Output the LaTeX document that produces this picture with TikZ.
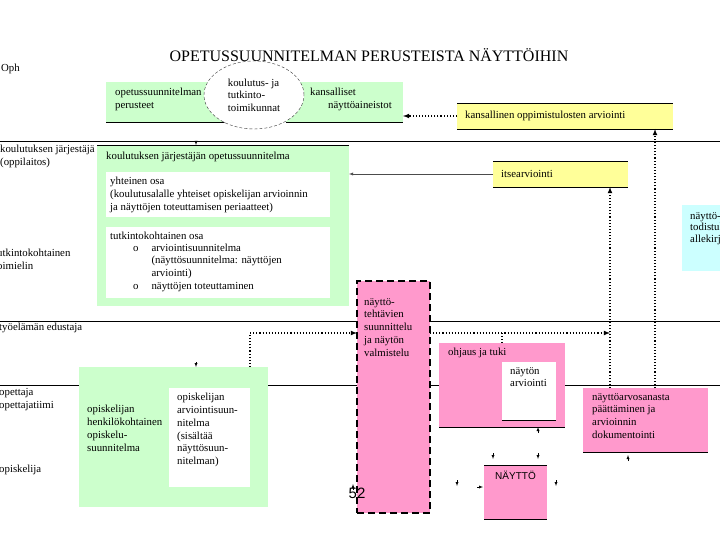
\documentclass[tikz,border=0pt]{standalone}
\usepackage{fontspec}
\setmainfont{Liberation Serif}
\setsansfont{Liberation Sans}
\usetikzlibrary{shapes.geometric,positioning}
\definecolor{ophgreen}{RGB}{204,255,204}
\definecolor{ophyellow}{RGB}{255,255,153}
\definecolor{ophpink}{RGB}{255,153,204}
\definecolor{ophcyan}{RGB}{204,255,255}
\tikzstyle{txt}=[inner sep=0pt, align=left, font=\fontsize{10.8}{12.8}\selectfont]
\tikzstyle{actor}=[txt, anchor=north west]
\tikzstyle{heading}=[inner sep=0pt, font=\fontsize{16}{19}\selectfont]
\tikzstyle{area}=[inner sep=0pt, outer sep=0pt]
\tikzstyle{green area}=[area, fill=ophgreen]
\tikzstyle{white area}=[area, fill=white]
\tikzstyle{yellow area}=[area, fill=ophyellow]
\tikzstyle{pink area}=[area, fill=ophpink]
\tikzstyle{cyan area}=[area, fill=ophcyan]
\tikzstyle{council}=[ellipse, draw=black!80, dash pattern=on 3pt off 2pt, fill=white, inner sep=0pt, align=left, font=\fontsize{10.8}{12.4}\selectfont]
\tikzstyle{prep}=[pink area, draw, line width=1.6pt, dash pattern=on 7pt off 4pt]
\tikzstyle{lane}=[line width=.8pt]
\tikzstyle{flow}=[dotted, line width=1.1pt]
\tikzstyle{tiny arrow}=[->]

\begin{document}
\begin{tikzpicture}[>=latex, x=1pt, y=-1pt]
    \useasboundingbox (0,0) rectangle (720,540);
    \clip (0,0) rectangle (720,540);
    \fill[white] (0,0) rectangle (720,540);

    % Lanes
    \draw[lane] (0,141) -- (720,141);
    \draw[lane] (0,321) -- (720,321);
    \draw[lane] (0,385) -- (720,385);
    \coordinate (ln1) at (0,141);
    \coordinate (ya) at (0,333);
    \coordinate (xa) at (655,0);
    \coordinate (xb) at (610,0);
    \coordinate (xc) at (250,0);
    \coordinate (xd) at (196,0);

    % Title
    \draw (369,55) node[heading] (title) {OPETUSSUUNNITELMAN PERUSTEISTA NÄYTTÖIHIN};

    % Actors
    \draw (1,64) node[actor] (oph) {Oph};
    \draw (0,145) node[actor] (jarjestaja) {koulutuksen järjestäjä\\(oppilaitos)};
    \draw (-6,249) node[actor] (toimielin) {tutkintokohtainen\\toimielin};
    \draw (-1,323) node[actor] (tyoelama) {työelämän edustaja};
    \draw (-1,388) node[actor] (opettaja) {opettaja\\opettajatiimi};
    \draw (-1,465) node[actor] (opiskelija) {opiskelija};

    % Oph level
    \draw (167,102) node[green area, minimum width=122pt, minimum height=40pt] (perus) {};
    \draw (344.5,102) node[green area, minimum width=117pt, minimum height=40pt] (aineistot) {};
    \draw (perus.south west) -- (perus.south east);
    \draw (aineistot.south west) -- (aineistot.south east);
    \draw (254,95) node[council, minimum width=100pt, minimum height=68pt] (toimikunnat) {koulutus- ja\\tutkinto-\\toimikunnat};
    \node[txt, below right=6pt and 9pt of perus.north west] (perus text) {opetussuunnitelman\\perusteet};
    \node[txt, below right=6pt and 24pt of aineistot.north west] (aineistot text) {kansalliset\\\hspace*{18pt}näyttöaineistot};
    \draw (565,116) node[yellow area, minimum width=216pt, minimum height=26pt] (kans) {};
    \draw (kans.north west) -- (kans.north east) (kans.south west) -- (kans.south east);
    \node[txt, right=8pt of kans.west] (kans text) {kansallinen oppimistulosten arviointi};

    % Oppilaitos level
    \draw (223,225.5) node[green area, minimum width=252pt, minimum height=161pt] (ops) {};
    \draw (ops.north west) -- (ops.north east);
    \node[txt, below right=7pt and 9pt of ops.north west] (ops text) {koulutuksen järjestäjän opetussuunnitelma};
    \draw (218,194.5) node[white area, minimum width=224pt, minimum height=45pt] (yht) {};
    \node[txt, below right=5pt and 4pt of yht.north west] (yht text) {yhteinen osa\\(koulutusalalle yhteiset opiskelijan arvioinnin\\ja näyttöjen toteuttamisen periaatteet)};
    \draw (218,262.5) node[white area, minimum width=224pt, minimum height=71pt] (tutk) {};
    \node[txt, below right=5pt and 4pt of tutk.north west] (tutk text) {tutkintokohtainen osa};
    \node[txt, below right=15pt and 27pt of tutk.north west] (tutk list) {\begin{tabular}{@{}l@{\hspace{13pt}}l@{}}o & arviointisuunnitelma\\ & (näyttösuunnitelma: näyttöjen\\ & arviointi)\\o & näyttöjen toteuttaminen\end{tabular}};
    \draw (560.5,174) node[yellow area, minimum width=135pt, minimum height=26pt] (itse) {};
    \draw (itse.north west) -- (itse.north east) (itse.south west) -- (itse.south east);
    \node[txt, right=8pt of itse.west] (itse text) {itsearviointi};
    \draw (710,238) node[cyan area, minimum width=56pt, minimum height=66pt] (todistus) {};
    \node[txt, font=\fontsize{10.8}{11.5}\selectfont, below right=7pt and 8pt of todistus.north west] (todistus text) {näyttö-\\todistuksen\\allekirjoitus};

    % Naytto
    \draw (393.5,397) node[prep, minimum width=73pt, minimum height=232pt] (valm) {};
    \node[txt, below right=17pt and 7pt of valm.north west] (valm text) {näyttö-\\tehtävien\\suunnittelu\\ja näytön\\valmistelu};
    \draw (173.5,437) node[green area, minimum width=189pt, minimum height=140pt] (hops) {};
    \node[txt, below right=38pt and 8pt of hops.north west] (hops text) {opiskelijan\\henkilökohtainen\\opiskelu-\\suunnitelma};
    \draw (209.5,437.5) node[white area, minimum width=81pt, minimum height=99pt] (arvsuun) {};
    \node[txt, below right=5pt and 8pt of arvsuun.north west] (arvsuun text) {opiskelijan\\arviointisuun-\\nitelma\\(sisältää\\näyttösuun-\\nitelman)};
    \draw (502,385) node[pink area, minimum width=126pt, minimum height=84pt] (ohjaus) {};
    \draw (ohjaus.south west) -- (ohjaus.south east);
    \node[txt, below right=5pt and 9pt of ohjaus.north west] (ohjaus text) {ohjaus ja tuki};
    \draw (529,391) node[white area, minimum width=54pt, minimum height=58pt] (nayarv) {};
    \draw (nayarv.south west) -- (nayarv.south east);
    \node[txt, below right=5pt and 8pt of nayarv.north west] (nayarv text) {näytön\\arviointi};
    \draw (645.5,420) node[pink area, minimum width=125pt, minimum height=64pt] (dok) {};
    \draw (dok.south west) -- (dok.south east);
    \node[txt, below right=5pt and 9pt of dok.north west] (dok text) {näyttöarvosanasta\\päättäminen ja\\arvioinnin\\dokumentointi};
    \draw (515.5,492) node[pink area, minimum width=63pt, minimum height=54pt] (nayt) {};
    \draw (nayt.north west) -- (nayt.north east) (nayt.south west) -- (nayt.south east);
    \node[txt, font=\sffamily\fontsize{10}{12}\selectfont, below=6pt of nayt.north] (nayt text) {NÄYTTÖ};

    % Connectors
    \draw[flow,->] (kans.west) -- (kans.west -| aineistot.east);
    \draw[flow,->] (dok.north -| xa) -- (kans.south -| xa);
    \draw[flow,->] (dok.north -| xb) -- (itse.south -| xb);
    \draw[flow,->] (valm.east |- ya) -- (xb |- ya);
    \draw[flow] (ohjaus.north) -- (ohjaus.north |- ya);
    \draw[flow,->] (hops.north -| xc) |- (valm.west |- ya);
    \draw[->, black!70] (itse.west) -- (itse.west -| ops.east);
    \draw[tiny arrow] (xd |- ln1) -- (xd |- ops.north);
    \draw[tiny arrow] (hops.north -| xd) ++(0,-5) -- ++(0,5);
    \draw[tiny arrow] (nayt.north west) ++(9,-12) -- ++(0,6);
    \draw[tiny arrow] (nayt.north east) ++(-9,-12) -- ++(0,6);
    \draw[tiny arrow] (ohjaus.south east) ++(-27,6) -- ++(0,-6);
    \draw[tiny arrow] (nayt.west) ++(-27,-12) -- ++(0,6);
    \draw[tiny arrow] (nayt.east) ++(9,-12) -- ++(0,6);
    \draw[tiny arrow] (nayt.west) ++(-7,-5) -- ++(6,0);
    \draw[tiny arrow] (dok.south) ++(-17.5,9) -- ++(0,-6);
    \draw[tiny arrow] (valm.south west) ++(-4,-23) -- ++(0,-6);

    % Page number
    \draw (357,493) node[inner sep=0pt, font=\sffamily\fontsize{15}{15}\selectfont] (page) {52};
\end{tikzpicture}
\end{document}
